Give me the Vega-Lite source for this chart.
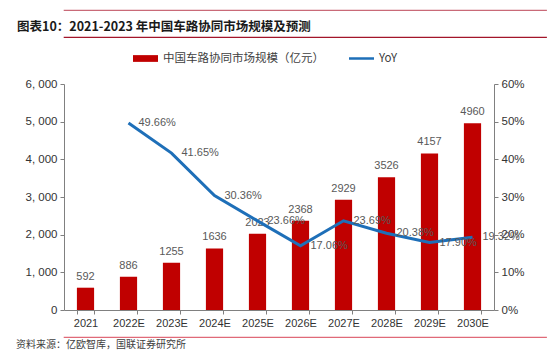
{
  "$schema": "https://vega.github.io/schema/vega-lite/v6.json",
  "padding": {"left": 8, "top": 9, "right": 8, "bottom": 4},
  "spacing": 8,
  "background": "white",
  "resolve": {"scale": {"color": "independent"}, "legend": {"color": "independent"}},
  "config": {
    "view": {"stroke": null},
    "concat": {"spacing": 8},
    "font": "Liberation Sans",
    "axis": {"grid": false, "labelColor": "#333333", "domainColor": "#808080", "tickColor": "#808080", "labelFont": "Liberation Sans", "labelFontSize": 11}
  },
  "datasets": {
    "main": [
      {"year": "2021", "value": 592, "yoy": null},
      {"year": "2022E", "value": 886, "yoy": 0.4966},
      {"year": "2023E", "value": 1255, "yoy": 0.4165},
      {"year": "2024E", "value": 1636, "yoy": 0.3036},
      {"year": "2025E", "value": 2023, "yoy": 0.2366},
      {"year": "2026E", "value": 2368, "yoy": 0.1706},
      {"year": "2027E", "value": 2929, "yoy": 0.2369},
      {"year": "2028E", "value": 3526, "yoy": 0.2038},
      {"year": "2029E", "value": 4157, "yoy": 0.1790},
      {"year": "2030E", "value": 4960, "yoy": 0.1932}
    ],
    "blank": [{"t": ""}]
  },
  "vconcat": [
    {
      "width": 482, "height": 0.01,
      "view": {"stroke": "#C96A78", "strokeWidth": 1.2},
      "data": {"name": "blank"},
      "mark": {"type": "point", "size": 0, "opacity": 0},
      "encoding": {}
    },
    {
      "width": 482, "height": 0.01,
      "view": {"stroke": "#A3152A", "strokeWidth": 1.2},
      "title": {"text": "图表10：2021-2023 年中国车路协同市场规模及预测", "anchor": "start", "dx": -47, "offset": 4, "font": "Noto Sans CJK SC", "fontSize": 12.5, "fontWeight": "bold", "color": "#1a1a1a"},
      "data": {"name": "blank"},
      "mark": {"type": "point", "size": 0, "opacity": 0},
      "encoding": {}
    },
    {
      "width": 430, "height": 226,
      "data": {"name": "main"},
      "encoding": {
        "x": {"field": "year", "type": "ordinal", "sort": null,
          "scale": {"paddingInner": 0.6, "paddingOuter": 0.3},
          "axis": {"title": null, "labelAngle": 0, "tickBand": "extent", "tickSize": 4, "labelPadding": 3, "labelFontSize": 11}}
      },
      "layer": [
        {
          "encoding": {
            "y": {"field": "value", "type": "quantitative",
              "scale": {"domain": [0, 6000], "nice": false},
              "axis": {"orient": "left", "values": [0, 1000, 2000, 3000, 4000, 5000, 6000], "labelExpr": "replace(format(datum.value, ','), ',', ', ')", "title": "亿元", "titleOpacity": 0, "titlePadding": 6, "titleFontSize": 11, "tickSize": 4, "labelPadding": 3, "labelFontSize": 11.5}}
          },
          "layer": [
            {
              "mark": {"type": "bar", "color": "#C00000"},
              "encoding": {
                "color": {"datum": "中国车路协同市场规模（亿元）", "type": "nominal",
                  "scale": {"domain": ["中国车路协同市场规模（亿元）", "YoY"], "range": ["#C00000", "#1E6FB8"]},
                  "legend": {"orient": "none", "legendX": 69, "legendY": -38, "direction": "horizontal", "title": null, "padding": 0,
                    "labelFont": "Noto Sans CJK SC", "labelFontSize": 11.5, "labelColor": "#404040", "labelOffset": 5, "columnPadding": 25, "labelLimit": 300,
                    "symbolType": "M-1,-0.25H1V0.25H-1Z", "symbolSize": 625, "symbolStrokeWidth": 0,
                    "encode": {"symbols": {"update": {
                      "shape": {"signal": "datum.value === 'YoY' ? 'M-1,-0.1H1V0.1H-1Z' : 'M-1,-0.27H1V0.27H-1Z'"},
                      "fill": {"signal": "datum.value === 'YoY' ? '#1E6FB8' : '#C00000'"},
                      "strokeWidth": {"value": 0}
                    }}}}
                }
              }
            },
            {
              "mark": {"type": "text", "baseline": "bottom", "dy": -6, "fontSize": 11, "color": "#595959"},
              "encoding": {"text": {"field": "value", "type": "quantitative", "format": "d"}}
            }
          ]
        },
        {
          "encoding": {
            "y": {"field": "yoy", "type": "quantitative",
              "scale": {"domain": [0, 0.6], "nice": false},
              "axis": {"orient": "right", "values": [0, 0.1, 0.2, 0.3, 0.4, 0.5, 0.6], "format": ".0%", "title": null, "tickSize": 4, "labelPadding": 3, "labelFontSize": 11.5}}
          },
          "layer": [
            {
              "mark": {"type": "line", "strokeWidth": 3},
              "encoding": {"color": {"datum": "YoY", "type": "nominal"}}
            },
            {
              "mark": {"type": "text", "align": "left", "baseline": "middle", "dx": 10, "fontSize": 11, "color": "#595959"},
              "encoding": {"text": {"field": "yoy", "type": "quantitative", "format": ".2%"}}
            }
          ]
        }
      ],
      "resolve": {"scale": {"y": "independent"}}
    },
    {
      "width": 482, "height": 0.01,
      "view": {"stroke": "#E06A78", "strokeWidth": 1.2},
      "title": {"text": "资料来源：亿欧智库，国联证券研究所", "orient": "bottom", "anchor": "start", "dx": -48, "offset": 3, "font": "Noto Sans CJK SC", "fontSize": 10, "fontWeight": "normal", "color": "#404040"},
      "data": {"name": "blank"},
      "mark": {"type": "point", "size": 0, "opacity": 0},
      "encoding": {}
    }
  ]
}
